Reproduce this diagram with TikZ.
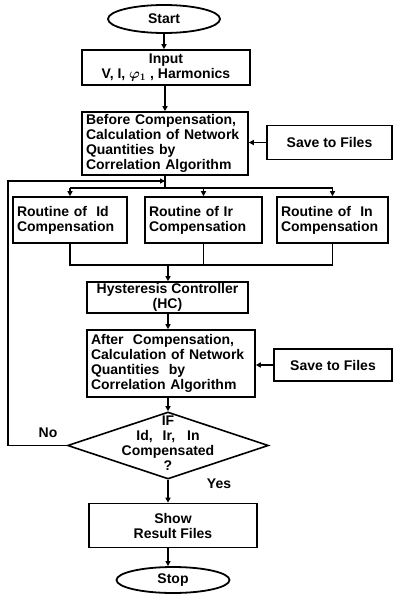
\documentclass[tikz,border=0pt]{standalone}
\usepackage{fontspec}
\setmainfont{Liberation Sans}
\usetikzlibrary{arrows.meta,shapes.geometric}
\begin{document}
\begin{tikzpicture}[x=1pt,y=-1pt,
  every node/.style={font=\fontsize{14}{15}\selectfont\bfseries},
  box/.style={draw, line width=1.6pt, inner xsep=4pt, inner ysep=1pt},
  arr/.style={line width=1.6pt, -{Triangle[length=5pt,width=5pt]}},
  ln/.style={line width=1.6pt},
  term/.style={draw, ellipse, line width=1.8pt, inner sep=0pt}
]
\useasboundingbox (0,0) rectangle (395,594);
\coordinate (ax) at (168,0);
% nodes
\node[term, minimum width=112pt, minimum height=28pt] (start) at (164,19) {Start};
\node[box, minimum width=168pt, minimum height=35pt, align=center] (input) at (166,67.5)
  {Input\\V, I, {\boldmath$\varphi_1$} , Harmonics};
\node[box, text width=158pt, minimum height=63pt, align=left] (before) at (165,143.5)
  {Before Compensation,\\Calculation of Network\\Quantities by\\Correlation Algorithm};
\node[box, minimum width=125pt, minimum height=34pt] (save1) at (329.5,142.5) {Save to Files};
\node[box, text width=106pt, minimum height=46pt, align=left] (rid) at (70,220)
  {Routine of\ \ Id\\Compensation};
\node[box, text width=109pt, minimum height=46pt, align=left] (rir) at (203.5,220)
  {Routine of Ir\\Compensation};
\node[box, text width=103pt, minimum height=46pt, align=left] (rin) at (332.5,220)
  {Routine of\ \ In\\Compensation};
\node[box, minimum width=161pt, minimum height=31pt, align=center] (hc) at (167.5,297.5)
  {Hysteresis Controller\\(HC)};
\node[box, text width=160pt, minimum height=67pt, align=left] (after) at (171,363.5)
  {After\ \ Compensation,\\Calculation of Network\\Quantities\ \ by\\Correlation Algorithm};
\node[box, minimum width=118pt, minimum height=32pt] (save2) at (333,365) {Save to Files};
\node[draw, diamond, line width=1.6pt, minimum width=201pt, minimum height=67pt, inner sep=0pt] (dec) at (168,445.5) {};
\node[align=center, inner sep=0pt] (dect) at (168,443) {IF\\Id,\hspace{10pt}Ir,\hspace{12pt}In\\Compensated\\?};
\node[box, minimum width=168pt, minimum height=44pt, align=center] (show) at (173,525.5)
  {Show\\Result Files};
\node[term, minimum width=113pt, minimum height=26pt] (stop) at (173,580) {Stop};
\node (no) at (48,433) {No};
\node (yes) at (219,484) {Yes};
% connectors
\coordinate (bustop) at (165,188);
\coordinate (busbot) at (168,265);
\coordinate (fbl) at (8,181);
\draw[arr] (start.south) -- (start.south |- input.north);
\draw[arr] (input.south -| before.south) -- (before.north);
\draw[arr] (save1.west) -- (save1.west -| before.east);
\draw[ln] (before.south) -- (bustop);
\draw[ln] (rid.north |- bustop) -- (rin.north |- bustop);
\draw[arr] (rid.north |- bustop) -- (rid.north);
\draw[arr] (rir.north |- bustop) -- (rir.north);
\draw[arr] (rin.north |- bustop) -- (rin.north);
\draw[ln] (rid.south) -- (rid.south |- busbot) -- (rin.south |- busbot) -- (rin.south);
\draw[ln] (rir.south) -- (rir.south |- busbot);
\draw[arr] (busbot) -- (busbot |- hc.north);
\draw[arr] (hc.south -| ax) -- (after.north -| ax);
\draw[arr] (save2.west) -- (save2.west -| after.east);
\draw[arr] (after.south -| ax) -- (dec.north);
\draw[arr] (dec.south) -- (dec.south |- show.north);
\draw[arr] (show.south -| ax) -- (ax |- stop.north);
\draw[arr] (dec.west) -| (fbl) -- (fbl -| before.south);
\end{tikzpicture}
\end{document}
